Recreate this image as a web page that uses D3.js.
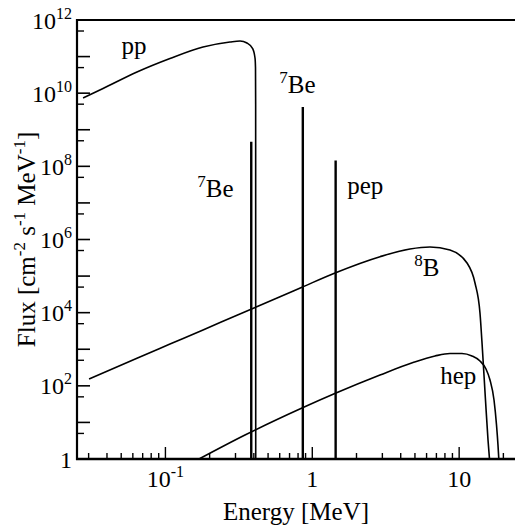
<!DOCTYPE html>
<html>
<head>
<meta charset="utf-8">
<script src="https://cdn.jsdelivr.net/npm/d3@7/dist/d3.min.js"></script>
<style>
  html, body { margin: 0; padding: 0; background: #fff; }
  svg { display: block; }
</style>
</head>
<body>
<svg id="chart" width="515" height="527"></svg>
<script>
// ---- data ----
const ppE  = [0.0275, 0.0376, 0.0640, 0.1074, 0.1803, 0.2752, 0.3220, 0.3592, 0.3928, 0.4074, 0.4105, 0.4115, 0.4120];
const ppF  = [7.38e9, 1.34e10, 3.79e10, 8.87e10, 1.83e11, 2.505e11, 2.667e11, 2.35e11, 1.66e11, 9.14e10, 5e10, 5e9, 1];

const b8E  = [0.0302, 0.0640, 0.1074, 0.1803, 0.3071, 0.6028, 0.851, 1.428, 2.891, 4.627, 6.329, 8.661, 11.31, 12.82, 13.86, 14.41, 15.11, 15.72, 16.09];
const b8F  = [153.8, 565.7, 1383, 3381, 8527, 27320, 49700, 121430, 338700, 550100, 623700, 516400, 227900, 64730, 9795, 953, 41.0, 3.31, 1];

const hepE = [0.1693, 0.3481, 0.851, 1.450, 2.891, 4.850, 6.846, 8.661, 10.455, 12.23, 13.86, 15.23, 16.22, 17.27, 17.96, 18.38, 18.62];
const hepF = [1.0, 4.53, 24.8, 63.7, 197.8, 434.5, 654, 765.6, 765.6, 654, 477.4, 288.5, 144.3, 41.0, 8.50, 2.414, 1];

const lineE = [0.384, 0.862, 1.442];
const lineF = [4.7e8, 4.2e9, 1.45e8];

const yTickExps  = [0, 2, 4, 6, 8, 10, 12];
const xTickVals  = [0.1, 1, 10];
const xTickSup   = ["-1", "", ""];
const xTickBase  = ["10", "1", "10"];

const labelText  = ["pp", "Be", "Be", "pep", "B", "hep"];
const labelSup   = ["", "7", "7", "", "8", ""];
const labelE     = [0.0502, 0.165, 0.596, 1.73, 4.94, 7.43];
const labelF     = [1.18e11, 1.45e7, 1.0e10, 1.76e7, 1.0e5, 112];

// ---- layout ----
const FONT = "'Liberation Serif', 'Times New Roman', Tinos, 'DejaVu Serif', serif";
const L = 77, T = 20, R = 515, B = 459;
const svg = d3.select("#chart").attr("font-family", FONT);

const x = d3.scaleLog().domain([0.025, 24]).range([L, R]);
const y = d3.scaleLog().domain([1, 1e12]).range([B, T]);

svg.append("defs").append("clipPath").attr("id", "clip")
  .append("rect").attr("x", L).attr("y", T).attr("width", R - L + 5).attr("height", B - T);

const g = svg.append("g").attr("clip-path", "url(#clip)");

const line = d3.line().x(d => x(d[0])).y(d => y(d[1])).curve(d3.curveMonotoneX);

const series = [
  d3.zip(ppE, ppF),
  d3.zip(b8E, b8F),
  d3.zip(hepE, hepF)
];
g.selectAll("path.curve").data(series).join("path")
  .attr("class", "curve")
  .attr("d", line)
  .attr("fill", "none")
  .attr("stroke", "#000")
  .attr("stroke-width", 1.6);

g.selectAll("line.spec").data(d3.zip(lineE, lineF)).join("line")
  .attr("class", "spec")
  .attr("x1", d => x(d[0])).attr("x2", d => x(d[0]))
  .attr("y1", y(1)).attr("y2", d => y(d[1]))
  .attr("stroke", "#000").attr("stroke-width", 2.4);

// ---- axes ----
const ax = svg.append("g");
ax.append("line").attr("x1", L).attr("x2", L).attr("y1", T - 1).attr("y2", B + 1)
  .attr("stroke", "#000").attr("stroke-width", 2.2);
ax.append("line").attr("x1", L).attr("x2", R).attr("y1", T).attr("y2", T)
  .attr("stroke", "#000").attr("stroke-width", 1.8);
ax.append("line").attr("x1", L - 1).attr("x2", R).attr("y1", B).attr("y2", B)
  .attr("stroke", "#000").attr("stroke-width", 2.6);

// y ticks
const yMajor = d3.range(0, 13).map(n => Math.pow(10, n));
const yMinor = d3.range(0, 12).map(n => 5 * Math.pow(10, n));
ax.selectAll("line.ymaj").data(yMajor.filter(v => v > 1 && v < 1e12)).join("line")
  .attr("x1", L).attr("x2", L + 13).attr("y1", d => y(d)).attr("y2", d => y(d))
  .attr("stroke", "#000").attr("stroke-width", 1.6);
ax.selectAll("line.ymin").data(yMinor).join("line")
  .attr("x1", L).attr("x2", L + 7).attr("y1", d => y(d)).attr("y2", d => y(d))
  .attr("stroke", "#000").attr("stroke-width", 1.4);

// x ticks
const xAll = x.ticks().filter(v => v >= 0.025 && v <= 24);
const isMajor = v => Math.abs(Math.log10(v) - Math.round(Math.log10(v))) < 1e-6;
ax.selectAll("line.xt").data(xAll).join("line")
  .attr("x1", d => x(d)).attr("x2", d => x(d))
  .attr("y1", B).attr("y2", d => isMajor(d) ? B - 12 : B - 6)
  .attr("stroke", "#000").attr("stroke-width", 1.4);

// y tick labels
const yl = ax.selectAll("text.yl").data(yTickExps).join("text")
  .attr("x", L - 5).attr("y", d => y(Math.pow(10, d)) + 8.5)
  .attr("text-anchor", "end").style("font-size", "24px");
yl.each(function(d) {
  const t = d3.select(this);
  if (d === 0) { t.text("1"); return; }
  t.append("tspan").text("10");
  t.append("tspan").attr("dy", -10).style("font-size", "16px").text(d);
});

// x tick labels
const xl = ax.selectAll("text.xl").data(d3.range(xTickVals.length)).join("text")
  .attr("x", i => x(xTickVals[i])).attr("y", 487)
  .attr("text-anchor", "middle").style("font-size", "24px");
xl.each(function(i) {
  const t = d3.select(this);
  t.append("tspan").text(xTickBase[i]);
  if (xTickSup[i]) t.append("tspan").attr("dy", -10).style("font-size", "16px").text(xTickSup[i]);
});

// axis titles
svg.append("text").attr("x", (L + R) / 2).attr("y", 520)
  .attr("text-anchor", "middle").style("font-size", "25px").text("Energy [MeV]");

const yt = svg.append("text")
  .attr("transform", `translate(35,${(T + B) / 2}) rotate(-90)`)
  .attr("text-anchor", "middle").style("font-size", "25px");
yt.append("tspan").text("Flux [cm");
yt.append("tspan").attr("dy", -10).style("font-size", "17px").text("-2");
yt.append("tspan").attr("dy", 10).text(" s");
yt.append("tspan").attr("dy", -10).style("font-size", "17px").text("-1");
yt.append("tspan").attr("dy", 10).text(" MeV");
yt.append("tspan").attr("dy", -10).style("font-size", "17px").text("-1");
yt.append("tspan").attr("dy", 10).text("]");

// curve labels
const lab = svg.selectAll("text.lab").data(d3.range(labelText.length)).join("text")
  .attr("x", i => x(labelE[i])).attr("y", i => y(labelF[i]))
  .style("font-size", "25px");
lab.each(function(i) {
  const t = d3.select(this);
  if (labelSup[i]) {
    t.append("tspan").attr("dy", -10).style("font-size", "17px").text(labelSup[i]);
    t.append("tspan").attr("dy", 10).text(labelText[i]);
  } else {
    t.text(labelText[i]);
  }
});
</script>
</body>
</html>
